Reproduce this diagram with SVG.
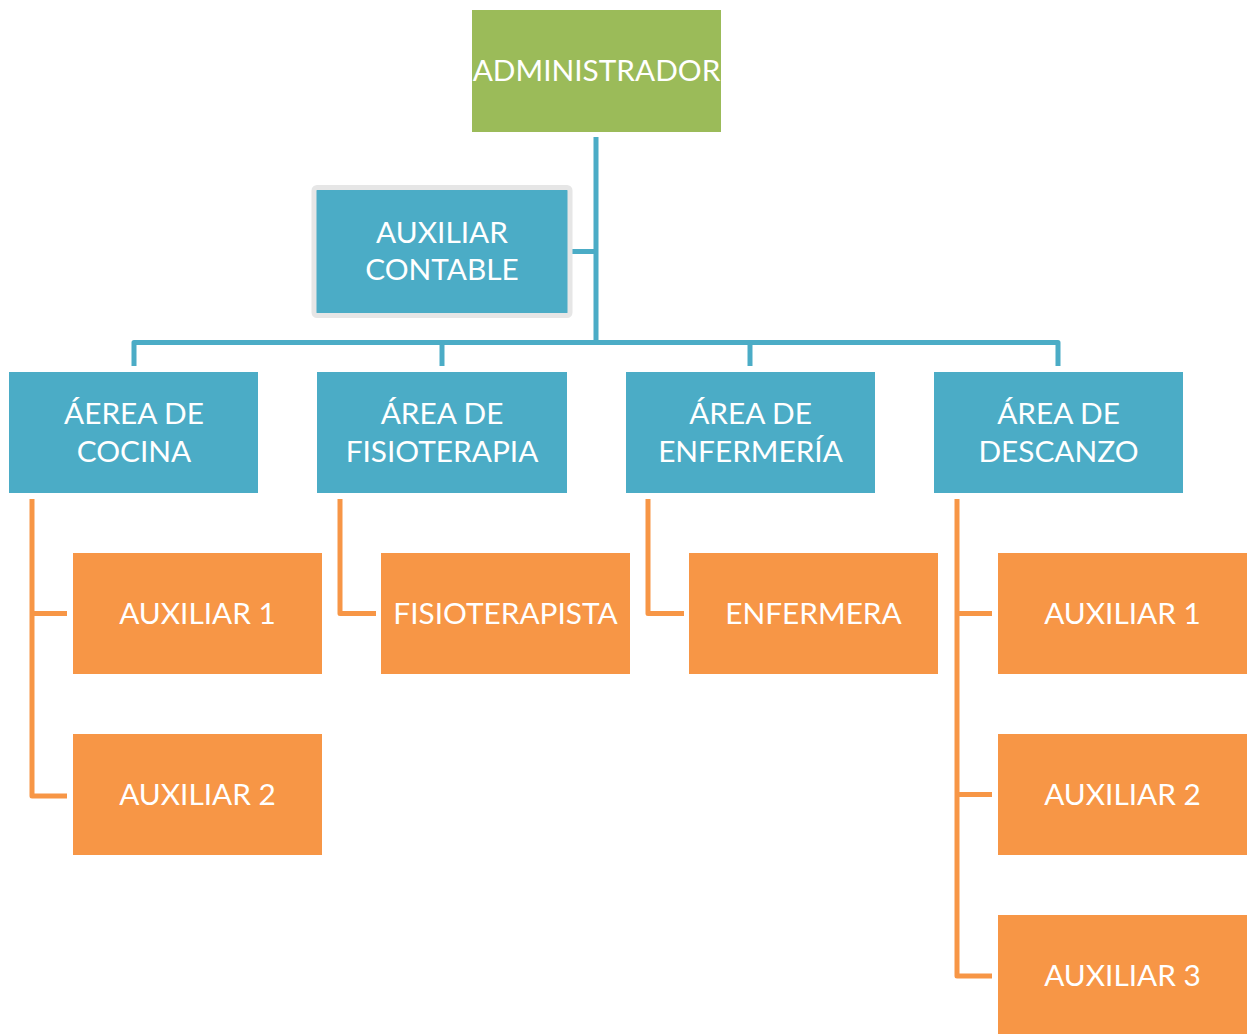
<svg xmlns="http://www.w3.org/2000/svg" width="1256" height="1034" viewBox="0 0 1256 1034">
<style>
  .green{fill:#9BBB59}
  .blue{fill:#4BACC6}
  .orange{fill:#F79646}
  .t{font-family:Lato,"Open Sans","Liberation Sans",sans-serif;font-size:29.8px;fill:#FFFFFF;text-anchor:middle}
  .cb{fill:none;stroke:#4BACC6;stroke-width:5;stroke-linejoin:round;stroke-linecap:butt}
  .co{fill:none;stroke:#F79646;stroke-width:5;stroke-linejoin:round;stroke-linecap:butt}
</style>
<rect width="1256" height="1034" fill="#FFFFFF"/>
<g id="connectors">
  <path class="cb" d="M596 137 V342"/>
  <path class="cb" d="M572 251.5 H596"/>
  <path class="cb" d="M134 366 V342.5 H1058 V366"/>
  <path class="cb" d="M442 342.5 V366"/>
  <path class="cb" d="M750 342.5 V366"/>
  <path class="co" d="M32 499 V796 H67"/>
  <path class="co" d="M32 613.5 H67"/>
  <path class="co" d="M340 499 V613.5 H376"/>
  <path class="co" d="M648 499 V613.5 H684"/>
  <path class="co" d="M957 499 V976 H992"/>
  <path class="co" d="M957 613.5 H992"/>
  <path class="co" d="M957 794.5 H992"/>
</g>
<g id="administrador">
  <rect class="green" x="472" y="10" width="249" height="122"/>
  <text class="t" x="596.5" y="81">ADMINISTRADOR</text>
</g>
<g id="auxiliar-contable">
  <rect x="314" y="187.5" width="256" height="128" rx="3" fill="#4BACC6" stroke="#E6E6E6" stroke-width="5"/>
  <text class="t" x="442" y="242.5">AUXILIAR</text>
  <text class="t" x="442" y="280">CONTABLE</text>
</g>
<g id="area-cocina">
  <rect class="blue" x="9" y="372" width="249" height="121"/>
  <text class="t" x="134" y="424">ÁEREA DE</text>
  <text class="t" x="134" y="461.5">COCINA</text>
</g>
<g id="area-fisioterapia">
  <rect class="blue" x="317" y="372" width="250" height="121"/>
  <text class="t" x="442" y="424">ÁREA DE</text>
  <text class="t" x="442" y="461.5">FISIOTERAPIA</text>
</g>
<g id="area-enfermeria">
  <rect class="blue" x="626" y="372" width="249" height="121"/>
  <text class="t" x="750.5" y="424">ÁREA DE</text>
  <text class="t" x="750.5" y="461.5">ENFERMERÍA</text>
</g>
<g id="area-descanzo">
  <rect class="blue" x="934" y="372" width="249" height="121"/>
  <text class="t" x="1058.5" y="424">ÁREA DE</text>
  <text class="t" x="1058.5" y="461.5">DESCANZO</text>
</g>
<g id="cocina-auxiliar-1">
  <rect class="orange" x="73" y="553" width="249" height="121"/>
  <text class="t" x="197.5" y="624">AUXILIAR 1</text>
</g>
<g id="cocina-auxiliar-2">
  <rect class="orange" x="73" y="734" width="249" height="121"/>
  <text class="t" x="197.5" y="805">AUXILIAR 2</text>
</g>
<g id="fisioterapista">
  <rect class="orange" x="381" y="553" width="249" height="121"/>
  <text class="t" x="505.5" y="624">FISIOTERAPISTA</text>
</g>
<g id="enfermera">
  <rect class="orange" x="689" y="553" width="249" height="121"/>
  <text class="t" x="813.5" y="624">ENFERMERA</text>
</g>
<g id="descanzo-auxiliar-1">
  <rect class="orange" x="998" y="553" width="249" height="121"/>
  <text class="t" x="1122.5" y="624">AUXILIAR 1</text>
</g>
<g id="descanzo-auxiliar-2">
  <rect class="orange" x="998" y="734" width="249" height="121"/>
  <text class="t" x="1122.5" y="805">AUXILIAR 2</text>
</g>
<g id="descanzo-auxiliar-3">
  <rect class="orange" x="998" y="915" width="249" height="121"/>
  <text class="t" x="1122.5" y="986">AUXILIAR 3</text>
</g>
</svg>
